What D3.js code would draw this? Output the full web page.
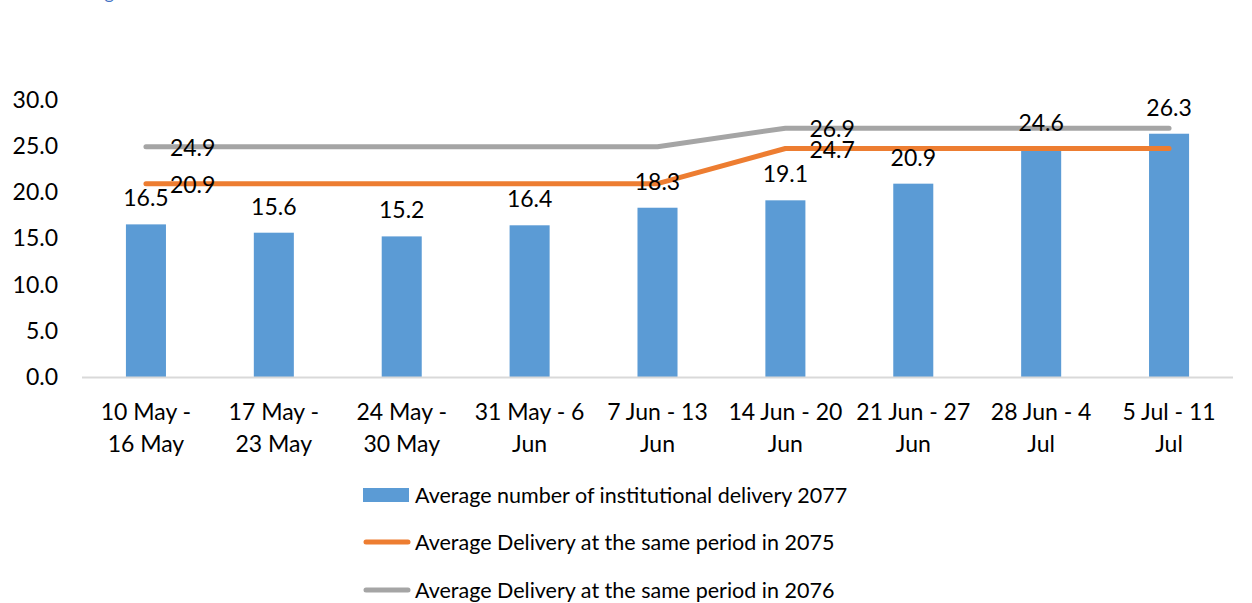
<!DOCTYPE html>
<html>
<head>
<meta charset="utf-8">
<script src="https://cdn.jsdelivr.net/npm/d3@7"></script>
<style>
  body { margin: 0; background: #fff; }
  svg { display: block; font-family: Lato, "Open Sans", sans-serif; }
</style>
</head>
<body>
<div id="chart"></div>
<script>
const periods = [
  ["10 May -", "16 May"], ["17 May -", "23 May"], ["24 May -", "30 May"],
  ["31 May - 6", "Jun"], ["7 Jun - 13", "Jun"], ["14 Jun - 20", "Jun"],
  ["21 Jun - 27", "Jun"], ["28 Jun - 4", "Jul"], ["5 Jul - 11", "Jul"]
]
const delivery2077 = [16.5, 15.6, 15.2, 16.4, 18.3, 19.1, 20.9, 24.6, 26.3]
const delivery2075 = [20.9, 20.9, 20.9, 20.9, 20.9, 24.7, 24.7, 24.7, 24.7]
const delivery2076 = [24.9, 24.9, 24.9, 24.9, 24.9, 26.9, 26.9, 26.9, 26.9]
// only these points carry a data label on the lines
const lineLabelIdx = [0, 5]
const yTicks = [0, 5, 10, 15, 20, 25, 30]

const seriesNames = [
  "Average number of institutional delivery 2077",
  "Average Delivery at the same period in 2075",
  "Average Delivery at the same period in 2076"
]

const width = 1252, height = 603
const blue = "#5B9BD5", orange = "#ED7D31", grey = "#A5A5A5"
const fontSize = 23

const svg = d3.select("#chart").append("svg")
  .attr("width", width)
  .attr("height", height)

// caption above the chart, only its descender shows in the crop
svg.append("text")
  .attr("x", 90).attr("y", -1)
  .attr("fill", "#4472C4")
  .style("font-size", "18px")
  .text("Figure")

const idx = d3.range(periods.length)

const x = d3.scaleBand()
  .domain(idx)
  .range([82, 1233])
  .paddingInner(0.687)
  .paddingOuter(0.3435)

const y = d3.scaleLinear()
  .domain([0, 30])
  .range([377, 99.5])

const cx = i => x(i) + x.bandwidth() / 2

// y tick labels
svg.append("g")
  .selectAll("text")
  .data(yTicks)
  .join("text")
  .attr("x", 58)
  .attr("y", d => y(d) + 8)
  .attr("text-anchor", "end")
  .style("font-size", fontSize + "px")
  .attr("fill", "#000")
  .text(d => d3.format(".1f")(d))

// bars
svg.append("g")
  .selectAll("rect")
  .data(delivery2077)
  .join("rect")
  .attr("x", (d, i) => x(i))
  .attr("y", d => y(d))
  .attr("width", x.bandwidth())
  .attr("height", d => y(0) - y(d))
  .attr("fill", blue)

// baseline axis
svg.append("line")
  .attr("x1", 82).attr("x2", 1233)
  .attr("y1", y(0) + 0.5).attr("y2", y(0) + 0.5)
  .attr("stroke", "#D9D9D9")
  .attr("stroke-width", 2)

const line = d3.line()
  .x((d, i) => cx(i))
  .y(d => y(d))

const lines = [
  { values: delivery2076, color: grey },
  { values: delivery2075, color: orange }
]

lines.forEach(s => {
  svg.append("path")
    .datum(s.values)
    .attr("d", line)
    .attr("fill", "none")
    .attr("stroke", s.color)
    .attr("stroke-width", 5)
    .attr("stroke-linecap", "round")
    .attr("stroke-linejoin", "round")
})

// bar labels
svg.append("g")
  .selectAll("text")
  .data(delivery2077)
  .join("text")
  .attr("x", (d, i) => cx(i))
  .attr("y", d => y(d) - 18)
  .attr("text-anchor", "middle")
  .style("font-size", fontSize + "px")
  .text(d => d3.format(".1f")(d))

// line labels (right of the point)
lines.forEach(s => {
  svg.append("g")
    .selectAll("text")
    .data(lineLabelIdx)
    .join("text")
    .attr("x", i => cx(i) + 24)
    .attr("y", i => y(s.values[i]) + 9)
    .style("font-size", fontSize + "px")
    .text(i => d3.format(".1f")(s.values[i]))
})

// x labels
const xl = svg.append("g")
  .selectAll("text")
  .data(periods)
  .join("text")
  .attr("text-anchor", "middle")
  .style("font-size", fontSize + "px")
xl.selectAll("tspan")
  .data((d, i) => d.map(t => ({ t, i })))
  .join("tspan")
  .attr("x", d => cx(d.i))
  .attr("y", (d, j) => 420 + j * 32)
  .text(d => d.t)

// legend
const legend = svg.append("g")
const rowY = [503, 550, 598]
legend.append("rect")
  .attr("x", 363).attr("y", rowY[0] - 15)
  .attr("width", 46).attr("height", 14)
  .attr("fill", blue)
;[orange, grey].forEach((c, k) => {
  legend.append("line")
    .attr("x1", 366).attr("x2", 408)
    .attr("y1", rowY[k + 1] - 8).attr("y2", rowY[k + 1] - 8)
    .attr("stroke", c)
    .attr("stroke-width", 5)
    .attr("stroke-linecap", "round")
})
legend.selectAll("text")
  .data(seriesNames)
  .join("text")
  .attr("x", 415)
  .attr("y", (d, i) => rowY[i])
  .style("font-size", "21.5px")
  .text(d => d)
</script>
</body>
</html>
